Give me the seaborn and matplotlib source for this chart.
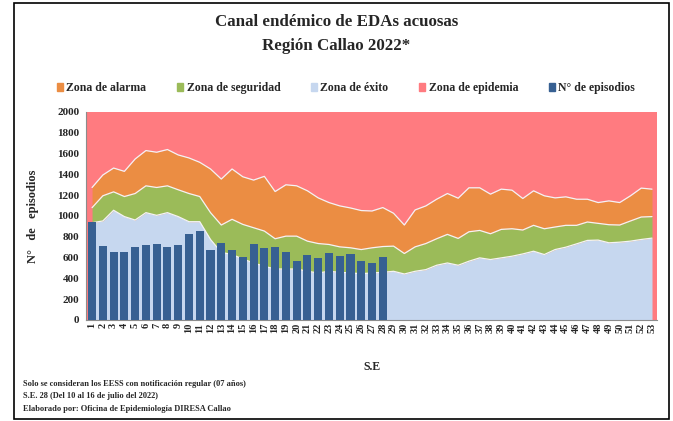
import matplotlib
matplotlib.use("Agg")
import matplotlib.pyplot as plt
import seaborn as sns
import pandas as pd
from matplotlib.patches import Patch, Rectangle

# semanas epidemiologicas
semanas = list(range(1, 54))

# limites superiores de cada zona del canal endemico
exito = [935, 952, 1055, 994, 961, 1032, 1006, 1032, 994, 945,
         945, 774, 650, 629, 587, 548, 516, 490, 490, 490,
         468, 452, 468, 458, 452, 445, 452, 458, 468, 442,
         468, 484, 526, 548, 526, 565, 597, 581, 597, 613,
         635, 661, 629, 677, 700, 732, 765, 768, 742, 748,
         758, 774, 787]
seguridad = [1080, 1194, 1232, 1187, 1216, 1290, 1274, 1290, 1252, 1216,
             1187, 1032, 913, 968, 919, 887, 855, 781, 806, 806,
             758, 735, 726, 703, 694, 677, 694, 706, 710, 639,
             703, 735, 781, 823, 784, 848, 861, 829, 871, 877,
             865, 910, 877, 894, 910, 910, 942, 929, 916, 913,
             952, 990, 994]
alarma = [1274, 1394, 1461, 1429, 1548, 1629, 1613, 1639, 1587, 1558,
          1516, 1452, 1355, 1452, 1377, 1345, 1381, 1235, 1300, 1290,
          1242, 1174, 1129, 1097, 1077, 1052, 1048, 1081, 1026, 913,
          1058, 1097, 1161, 1216, 1171, 1271, 1271, 1210, 1258, 1248,
          1168, 1242, 1194, 1174, 1184, 1161, 1161, 1129, 1145, 1129,
          1194, 1268, 1258]
epidemia_tope = 2000

# casos notificados 2022 (S.E. 1 - 28)
episodios = [940, 710, 655, 655, 700, 720, 726, 700, 720, 823,
             855, 668, 742, 668, 603, 726, 694, 700, 655, 568,
             623, 594, 645, 613, 639, 568, 548, 603]

c_alarma = "#EB8D43"
c_seguridad = "#9BBB59"
c_exito = "#C6D7EF"
c_epidemia = "#FF7B80"
c_barra = "#376092"

sns.set_theme(style="white")
plt.rcParams['font.family'] = ['Liberation Serif', 'DejaVu Serif']
plt.rcParams['font.weight'] = 'bold'

fig = plt.figure(figsize=(6.73, 4.21), dpi=100)
ax = fig.add_axes([0.128, 0.240, 0.848, 0.494])
ax.set_facecolor(c_epidemia)

ax.fill_between(semanas, alarma, epidemia_tope, color=c_epidemia, lw=0, zorder=1)
ax.fill_between(semanas, seguridad, alarma, color=c_alarma, lw=0, zorder=1)
ax.fill_between(semanas, exito, seguridad, color=c_seguridad, lw=0, zorder=1)
ax.fill_between(semanas, 0, exito, color=c_exito, lw=0, zorder=1)
for serie in (exito, seguridad, alarma):
    ax.plot(semanas, serie, color="#F4F4F4", lw=0.9, zorder=1.5)

df = pd.DataFrame({"semana": semanas[:len(episodios)], "episodios": episodios})
sns.barplot(data=df, x="semana", y="episodios", native_scale=True,
            color=c_barra, saturation=1, width=0.75, linewidth=0, ax=ax)
for p in ax.patches:
    p.set_zorder(3)

ax.set_xlim(0.45, 53.45)
ax.set_ylim(0, 2000)
ax.set_yticks(range(0, 2001, 200))
ax.set_xticks(semanas)
ax.set_xticklabels([str(s) for s in semanas], rotation=90, fontsize=7.5, fontweight="bold")
ax.tick_params(axis="y", labelsize=8, pad=5, length=0)
ax.tick_params(axis="x", pad=2, length=0)
ax.set_xlabel("")
ax.set_ylabel("N°   de   episodios", fontsize=9, fontweight="bold", labelpad=13)
for s in ("top", "right"):
    ax.spines[s].set_visible(False)
for s in ("left", "bottom"):
    ax.spines[s].set_color("#8C8C8C")
    ax.spines[s].set_linewidth(0.8)

fig.text(372 / 673, 1 - 367 / 421, "S.E", ha="center", va="center", fontsize=8.5, fontweight="bold")

fig.text(0.5, 1 - 22 / 421, "Canal endémico de EDAs acuosas", ha="center", va="center",
         fontsize=12.2, fontweight="bold")
fig.text(0.5, 1 - 46 / 421, "Región Callao 2022*", ha="center", va="center",
         fontsize=12.2, fontweight="bold")

handles = [Patch(color=c_alarma, label="Zona de alarma"),
           Patch(color=c_seguridad, label="Zona de seguridad"),
           Patch(color=c_exito, label="Zona de éxito"),
           Patch(color=c_epidemia, label="Zona de epidemia"),
           Patch(color=c_barra, label="N° de episodios")]
fig.legend(handles=handles, loc="center", bbox_to_anchor=(346 / 673, 1 - 88 / 421), ncol=5,
           frameon=False, handlelength=0.5, handleheight=0.7,
           handletextpad=0.3, columnspacing=2.6, prop={"weight": "bold", "size": 8.5})

notas = ["Solo se consideran los EESS con notificación regular (07 años)",
         "S.E. 28 (Del 10 al 16 de julio del 2022)",
         "Elaborado por: Oficina de Epidemiología DIRESA Callao"]
for i, nota in enumerate(notas):
    fig.text(23 / 673, 1 - (384 + 12.5 * i) / 421, nota, ha="left", va="center",
             fontsize=6.0, fontweight="bold")

fig.patches.append(Rectangle((14 / 673, 2 / 421), 655 / 673, 416 / 421, transform=fig.transFigure,
                             fill=False, edgecolor="black", lw=1.2))

fig.savefig("out.png", dpi=100)
